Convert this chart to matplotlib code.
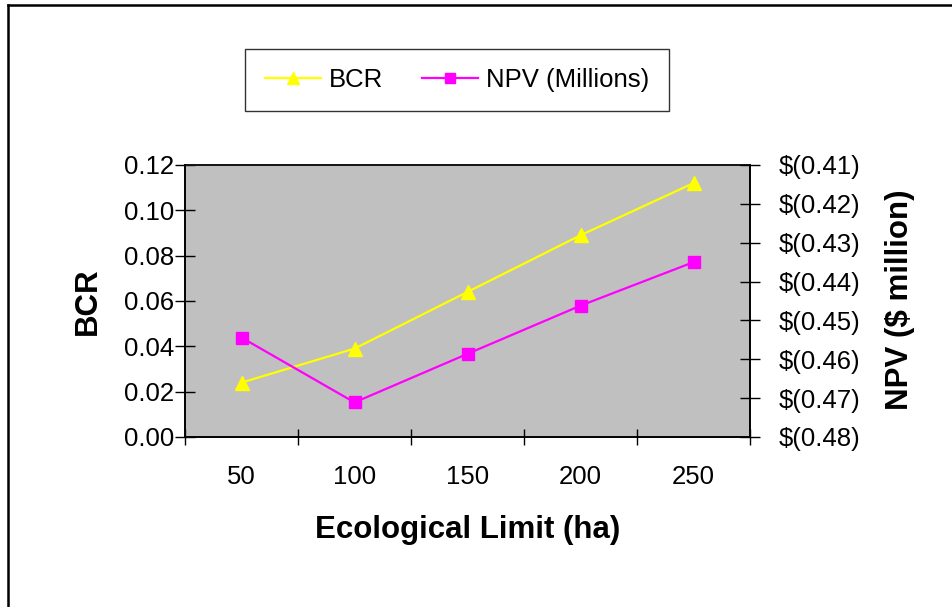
import matplotlib
matplotlib.use("Agg")
import matplotlib.pyplot as plt
from matplotlib.lines import Line2D
from matplotlib.ticker import FixedLocator, FuncFormatter

# data
limits = ["50", "100", "150", "200", "250"]
bcr = [0.024, 0.039, 0.064, 0.089, 0.112]
npv = [-0.4544, -0.4711, -0.4586, -0.4462, -0.435]

plt.rcParams["font.family"] = ["Liberation Sans", "DejaVu Sans"]

W, H = 952, 607
fig = plt.figure(figsize=(W / 100, H / 100), dpi=100)

# plot area in pixels: x 185..750, y 165..437
ax = fig.add_axes([185 / W, 1 - 437 / H, 565 / W, 272 / H])
ax.set_facecolor("#C0C0C0")
x = list(range(len(limits)))
l1, = ax.plot(x, bcr, color="#FFFF00", lw=1.6, marker="^", ms=10, mec="#FFFF00",
              label="BCR", zorder=3)
ax.set_xlim(-0.5, len(limits) - 0.5)
ax.set_ylim(0, 0.12)
ax.set_yticks([0, 0.02, 0.04, 0.06, 0.08, 0.10, 0.12])
ax.yaxis.set_major_formatter(FuncFormatter(lambda v, p: f"{v:.2f}"))
ax.set_xticks(x)
ax.set_xticklabels(limits)
ax.xaxis.set_minor_locator(FixedLocator([i - 0.5 for i in range(len(limits) + 1)]))
ax.tick_params(axis="x", which="major", length=0, pad=20, labelsize=18.5)
ax.tick_params(axis="x", which="minor", direction="inout", length=11, width=1)
ax.tick_params(axis="y", direction="inout", length=14, width=1, pad=1, labelsize=18.5)
for s in ax.spines.values():
    s.set_linewidth(1.2)
    s.set_color("black")
ax.spines["top"].set_color("#808080")

ax2 = ax.twinx()
l2, = ax2.plot(x, npv, color="#FF00FF", lw=1.6, marker="s", ms=8, mec="#FF00FF",
               label="NPV (Millions)", zorder=3)
ax2.set_ylim(-0.48, -0.41)
ax2.set_yticks([-0.48, -0.47, -0.46, -0.45, -0.44, -0.43, -0.42, -0.41])
ax2.yaxis.set_major_formatter(FuncFormatter(lambda v, p: f"$({abs(v):.2f})"))
ax2.tick_params(axis="y", direction="inout", length=14, width=1, pad=14, labelsize=18.5)
for s in ax2.spines.values():
    s.set_linewidth(1.2)

fig.text(88 / W, 1 - 301 / H, "BCR", rotation=90, fontsize=22.5, fontweight="bold",
         ha="center", va="center")
fig.text(900 / W, 1 - 300 / H, "NPV ($ million)", rotation=90, fontsize=22.5,
         fontweight="bold", ha="center", va="center")
fig.text(468 / W, 1 - 530 / H, "Ecological Limit (ha)", fontsize=22.5,
         fontweight="bold", ha="center", va="center")

leg = fig.legend(handles=[l1, l2], loc="center", ncol=2,
                 bbox_to_anchor=(457 / W, 1 - 80 / H), fontsize=18.5,
                 frameon=True, fancybox=False, edgecolor="black", borderpad=0.75,
                 handlelength=2.2, handletextpad=0.3, columnspacing=1.5,
                 markerscale=0.9)
leg.get_frame().set_linewidth(1.0)

# outer chart border (only left and top edges visible)
fig.add_artist(Line2D([8 / W, 8 / W], [0, 1 - 5 / H], transform=fig.transFigure,
                      color="black", lw=1.8))
fig.add_artist(Line2D([8 / W, 1], [1 - 5 / H, 1 - 5 / H], transform=fig.transFigure,
                      color="black", lw=1.8))

fig.savefig("out.png", dpi=100)
